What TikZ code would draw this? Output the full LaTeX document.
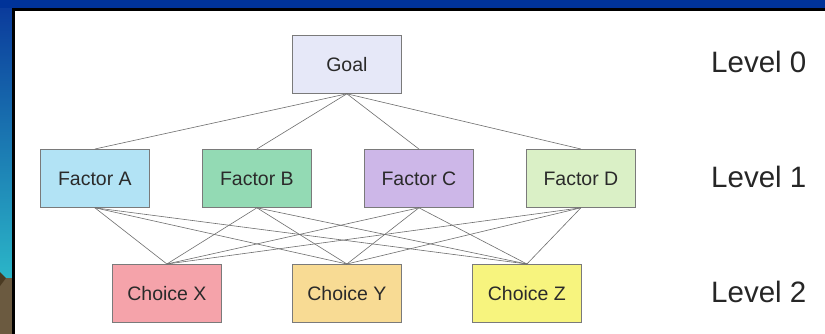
\documentclass[tikz,border=0pt]{standalone}
\usepackage{fontspec}
\setmainfont{Liberation Sans}
\definecolor{topblue}{HTML}{003399}
\definecolor{stripTop}{HTML}{0B3C9C}
\definecolor{stripBot}{HTML}{2BB6C8}
\definecolor{rock}{HTML}{6B5A40}
\definecolor{rockdark}{HTML}{4A3A22}
\definecolor{edge}{HTML}{7A7A7A}
\definecolor{wire}{HTML}{6E6E6E}
\definecolor{cGoal}{HTML}{E6E8F8}
\definecolor{cA}{HTML}{B2E3F5}
\definecolor{cB}{HTML}{93DAB4}
\definecolor{cC}{HTML}{CDB7E8}
\definecolor{cD}{HTML}{DAF0C6}
\definecolor{cX}{HTML}{F5A3AA}
\definecolor{cY}{HTML}{F8DB94}
\definecolor{cZ}{HTML}{F7F47E}
\definecolor{ink}{HTML}{2A2A2A}
\tikzset{
  hbox/.style={draw=edge, line width=0.8pt, minimum width=109pt, minimum height=58pt,
    inner sep=0pt, font=\fontsize{19.5}{22}\selectfont, text=ink, anchor=north west},
  lvl/.style={font=\fontsize{29.5}{33}\selectfont, text=ink!90!black, anchor=west, inner sep=0pt},
  wirestyle/.style={draw=wire, line width=0.6pt}
}
\begin{document}
\begin{tikzpicture}[x=1pt,y=-1pt]
\useasboundingbox (0,0) rectangle (825,334);
% slide background
\fill[topblue] (0,0) rectangle (825,9);
\shade[top color=stripTop, bottom color=stripBot] (0,9) rectangle (13,279);
\fill[rock] (0,278) rectangle (13,334);
\fill[rockdark] (0,272) -- (6,278) -- (0,286) -- cycle;
\fill[white] (13.5,9.5) rectangle (825,334);
\draw[black, line width=2.2pt] (13.5,334) -- (13.5,9.5) -- (825,9.5);
% nodes
\node[hbox, fill=cGoal] (goal) at (292,35) {Goal};
\node[hbox, fill=cA] (fa) at (40,149) {Factor A};
\node[hbox, fill=cB] (fb) at (202,149) {Factor B};
\node[hbox, fill=cC] (fc) at (364,149) {Factor C};
\node[hbox, fill=cD] (fd) at (526,149) {Factor D};
\node[hbox, fill=cX] (cx) at (112,264) {Choice X};
\node[hbox, fill=cY] (cy) at (292,264) {Choice Y};
\node[hbox, fill=cZ] (cz) at (472,264) {Choice Z};
% level labels
\node[lvl] (l0) at (711,62) {Level 0};
\node[lvl] (l1) at (711,177) {Level 1};
\node[lvl] (l2) at (711,292) {Level 2};
% connectors
\foreach \f in {fa,fb,fc,fd} {
  \draw[wirestyle] (goal.south) -- (\f.north);
}
\foreach \f in {fa,fb,fc,fd} {
  \foreach \c in {cx,cy,cz} {
    \draw[wirestyle] (\f.south) -- (\c.north);
  }
}
\end{tikzpicture}
\end{document}
